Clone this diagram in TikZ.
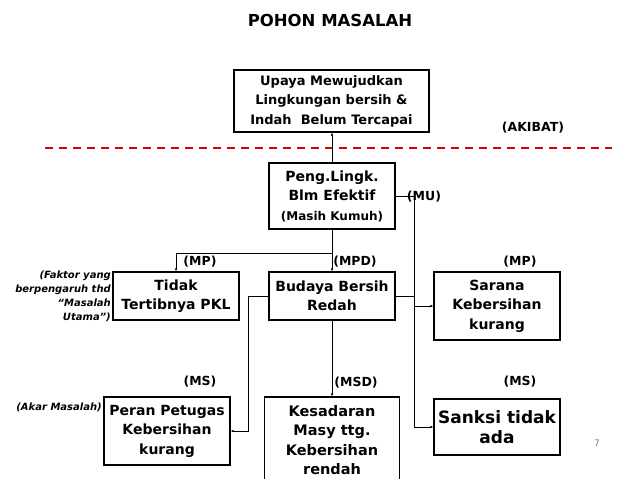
\documentclass[tikz,border=0pt]{standalone}
\usepackage{fontspec}
\setmainfont{DejaVu Sans}
\usetikzlibrary{arrows.meta,positioning}

\begin{document}
\begin{tikzpicture}[x=1pt, y=-1pt,
  every node/.style={font=\bfseries\fontsize{13}{19.5}\selectfont},
  box/.style={draw, line width=1.1pt, align=center, inner sep=1pt, minimum width=126pt},
  tag/.style={font=\bfseries\fontsize{12.5}{15}\selectfont},
  note/.style={font=\bfseries\itshape\fontsize{10}{14}\selectfont, align=right, anchor=east, inner sep=0pt},
  link/.style={line width=0.8pt},
  tip/.style={-{Latex[length=3pt,width=2.5pt]}}]
\useasboundingbox (0,0) rectangle (638,479);
\clip (0,0) rectangle (638,479);

% title and effect
\node (title) at (330,20) {\fontsize{16.5}{18}\selectfont POHON MASALAH};
\node[box, minimum width=195pt, minimum height=62pt] (upaya) at (331.5,101)
  {Upaya Mewujudkan\\ Lingkungan bersih \&\\ Indah\ \ Belum Tercapai};
\node[tag] (akibat) at (533,128) {(AKIBAT)};
\coordinate (dashL) at (45,148);
\coordinate (dashR) at (612,148);
\draw[red!85!black, line width=1.8pt, dash pattern=on 8pt off 6pt] (dashL) -- (dashR);

% main problem
\node[box, minimum height=66pt] (peng) at (332,196)
  {\fontsize{14}{19.5}\selectfont Peng.Lingk.\\ \fontsize{14}{19.5}\selectfont Blm Efektif\\ \fontsize{12}{19.5}\selectfont (Masih Kumuh)};
\node[tag] (mu) at (424,197) {(MU)};

% influencing factors
\node[box, minimum height=48pt] (tidak) at (176,296)
  {\fontsize{14}{20.5}\selectfont Tidak\\ \fontsize{14}{20.5}\selectfont Tertibnya PKL};
\node[box, minimum height=48pt] (budaya) at (332,296)
  {\fontsize{14}{20.5}\selectfont Budaya Bersih\\ \fontsize{14}{20.5}\selectfont Redah};
\node[box, minimum height=68pt] (sarana) at (497,306)
  {\fontsize{14}{20}\selectfont Sarana\\ \fontsize{14}{20}\selectfont Kebersihan\\ \fontsize{14}{20}\selectfont kurang};
\node[tag] (mp1) at (200,262) {(MP)};
\node[tag] (mpd) at (355,262) {(MPD)};
\node[tag] (mp2) at (520,262) {(MP)};
\node[note] (faktor) at (111,296)
  {(Faktor yang\\ berpengaruh thd\\ ``Masalah\\ Utama'')};

% root causes
\node[box, minimum height=68pt] (peran) at (167,431)
  {\fontsize{14}{18.5}\selectfont Peran Petugas\\ \fontsize{14}{18.5}\selectfont Kebersihan\\ \fontsize{14}{18.5}\selectfont kurang};
\node[box, minimum width=135pt, minimum height=92pt, text depth=6pt] (sadar) at (332,443)
  {\fontsize{14.5}{17.6}\selectfont Kesadaran\\ \fontsize{14.5}{17.6}\selectfont Masy ttg.\\ \fontsize{14.5}{17.6}\selectfont Kebersihan\\ \fontsize{14.5}{17.6}\selectfont rendah};
\node[box, minimum height=56pt] (sanksi) at (497,427)
  {\fontsize{17}{24}\selectfont Sanksi tidak\\ \fontsize{17}{24}\selectfont ada};
\node[tag] (ms1) at (200,382) {(MS)};
\node[tag] (msd) at (356,383) {(MSD)};
\node[tag] (ms2) at (520,382) {(MS)};
\node[note] (akar) at (102,407) {(Akar Masalah)};
\node[font=\fontsize{9}{10}\selectfont, text=gray] (page) at (597,443) {7};

% connectors
\coordinate (split) at (332,253);
\coordinate (bus) at (414,196);
\coordinate (elbow) at (248,296);
\draw[link, tip] (peng.north) -- (peng.north |- upaya.south);
\draw[link, tip] (peng.south) -- (budaya.north);
\draw[link, tip] (split) -| (tidak.north);
\draw[link] (peng.east) -- (bus);
\draw[link, tip] (bus) |- (sanksi.west);
\draw[link, tip] (bus |- sarana.west) -- (sarana.west);
\draw[link] (budaya.east) -- (bus |- budaya.east);
\draw[link, tip] (budaya.west) -- (elbow) |- (peran.east);
\draw[link, tip] (budaya.south) -- (sadar.north);
\end{tikzpicture}
\end{document}
